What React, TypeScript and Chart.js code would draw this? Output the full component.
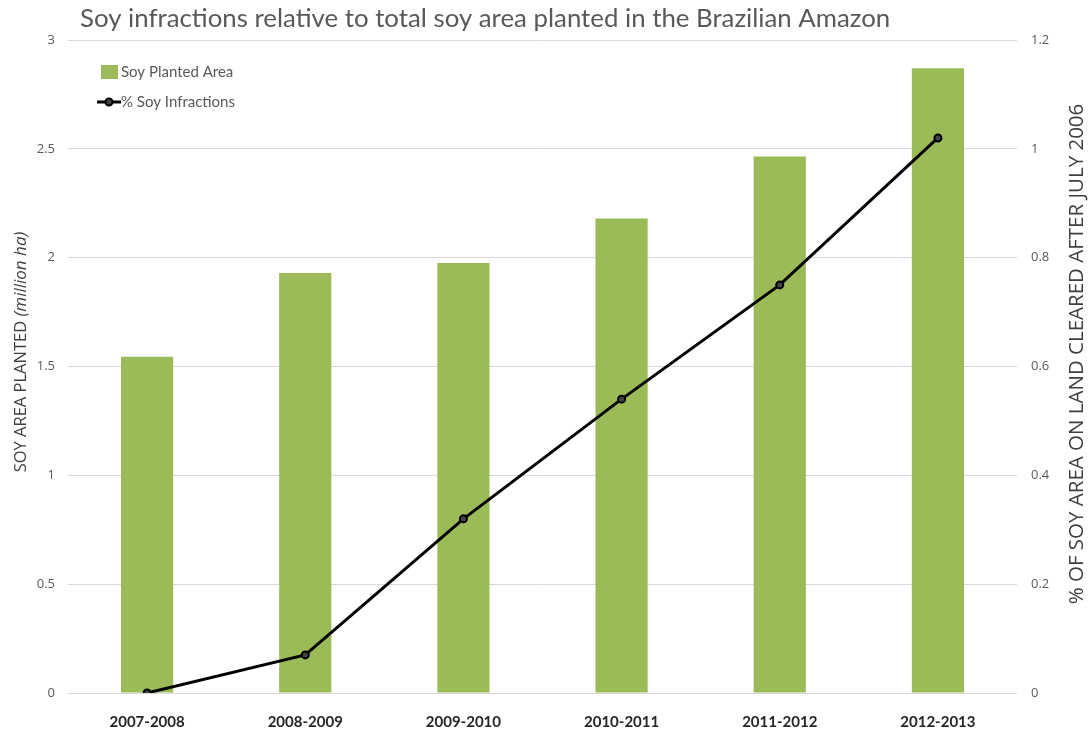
import React, { useEffect, useRef } from "react";
import { Chart, registerables } from "chart.js";

Chart.register(...registerables);

const categories = ["2007-2008", "2008-2009", "2009-2010", "2010-2011", "2011-2012", "2012-2013"];
const soyArea = [1.545, 1.93, 1.975, 2.18, 2.465, 2.87];
const infractions = [0, 0.07, 0.32, 0.54, 0.75, 1.02];
const leftTicks = [0, 0.5, 1, 1.5, 2, 2.5, 3];
const rightTicks = [0, 0.2, 0.4, 0.6, 0.8, 1, 1.2];

const TITLE = "Soy infractions relative to total soy area planted in the Brazilian Amazon";
const LEFT_TITLE = "SOY AREA PLANTED";
const LEFT_SUB = "(million ha)";
const RIGHT_TITLE = "% OF SOY AREA ON LAND CLEARED AFTER JULY 2006";
const GREEN = "#9BBB59";
const GRAY = "#595959";

const decor = {
  id: "decor",
  afterDraw(chart: any) {
    const ctx = chart.ctx;
    ctx.save();
    // title
    ctx.fillStyle = GRAY;
    ctx.font = "400 25.8px Lato";
    ctx.textBaseline = "middle";
    ctx.textAlign = "left";
    ctx.fillText(TITLE, 80, 19);

    // left axis title
    ctx.save();
    ctx.translate(21, 352);
    ctx.rotate(-Math.PI / 2);
    ctx.textBaseline = "middle";
    ctx.font = "16.5px 'Open Sans'";
    const w1 = ctx.measureText(LEFT_TITLE + " ").width;
    ctx.font = "italic 17px 'Open Sans'";
    const w2 = ctx.measureText(LEFT_SUB).width;
    const start = -(w1 + w2) / 2;
    ctx.textAlign = "left";
    ctx.font = "16.5px 'Open Sans'";
    ctx.fillStyle = "#404040";
    ctx.fillText(LEFT_TITLE, start, 0);
    ctx.font = "italic 17px 'Open Sans'";
    ctx.fillText(LEFT_SUB, start + w1, 0);
    ctx.restore();

    // right axis title
    ctx.save();
    ctx.translate(1077, 354);
    ctx.rotate(-Math.PI / 2);
    ctx.font = "20.5px 'Open Sans'";
    ctx.fillStyle = "#404040";
    ctx.textAlign = "center";
    ctx.textBaseline = "middle";
    ctx.fillText(RIGHT_TITLE, 0, 0);
    ctx.restore();

    // legend
    ctx.fillStyle = GREEN;
    ctx.fillRect(101, 65, 17, 14);
    ctx.strokeStyle = "#000";
    ctx.lineWidth = 3;
    ctx.beginPath();
    ctx.moveTo(97, 102);
    ctx.lineTo(121, 102);
    ctx.stroke();
    ctx.beginPath();
    ctx.arc(109, 102, 3.5, 0, Math.PI * 2);
    ctx.fillStyle = "#444";
    ctx.fill();
    ctx.lineWidth = 2;
    ctx.stroke();
    ctx.fillStyle = GRAY;
    ctx.font = "15px Lato";
    ctx.textAlign = "left";
    ctx.textBaseline = "middle";
    ctx.fillText("Soy Planted Area", 121, 72);
    ctx.fillText("% Soy Infractions", 121, 102);
    ctx.restore();
  },
};

export default function App() {
  const ref = useRef<HTMLCanvasElement>(null);
  useEffect(() => {
    const chart = new Chart(ref.current!, {
      type: "bar",
      data: {
        labels: categories,
        datasets: [
          {
            type: "line",
            label: "% Soy Infractions",
            data: infractions,
            yAxisID: "y2",
            borderColor: "#000",
            borderWidth: 3,
            pointRadius: 3.5,
            pointBorderWidth: 2,
            pointBackgroundColor: "#444",
            pointBorderColor: "#000",
            tension: 0,
            order: 0,
          } as any,
          {
            type: "bar",
            label: "Soy Planted Area",
            data: soyArea,
            yAxisID: "y",
            backgroundColor: GREEN,
            categoryPercentage: 1,
            barPercentage: 0.33,
            order: 1,
          },
        ],
      },
      plugins: [decor],
      options: {
        animation: false,
        responsive: true,
        maintainAspectRatio: false,
        layout: { padding: { top: 40, left: 0, right: 0, bottom: 0 } },
        plugins: { legend: { display: false }, title: { display: false }, tooltip: { enabled: false } },
        scales: {
          x: {
            grid: { display: false },
            border: { display: false },
            ticks: { color: "#262626", font: { family: "Lato", weight: "bold", size: 15 }, padding: 12 },
            afterFit: (s: any) => { s.height = 36; },
          },
          y: {
            position: "left",
            min: 0,
            max: 3,
            afterBuildTicks: (s: any) => { s.ticks = leftTicks.map((v) => ({ value: v })); },
            grid: { color: "#d9d9d9", lineWidth: 1, drawTicks: false },
            border: { display: false },
            ticks: {
              color: GRAY,
              font: { family: "'Open Sans'", size: 13 },
              padding: 13,
              callback: (v: any) => String(v),
            },
            afterFit: (s: any) => { s.width = 68; },
          },
          y2: {
            position: "right",
            min: 0,
            max: 1.2,
            afterBuildTicks: (s: any) => { s.ticks = rightTicks.map((v) => ({ value: v })); },
            grid: { display: false, drawTicks: false },
            border: { display: false },
            ticks: {
              color: GRAY,
              font: { family: "'Open Sans'", size: 13 },
              padding: 14,
              callback: (v: any) => String(v),
            },
            afterFit: (s: any) => { s.width = 72; },
          },
        },
      },
    });
    return () => chart.destroy();
  }, []);
  return (
    <div style={{ position: "fixed", left: 0, top: 0, width: 1089, height: 729, background: "#fff" }}>
      <canvas ref={ref} />
    </div>
  );
}
